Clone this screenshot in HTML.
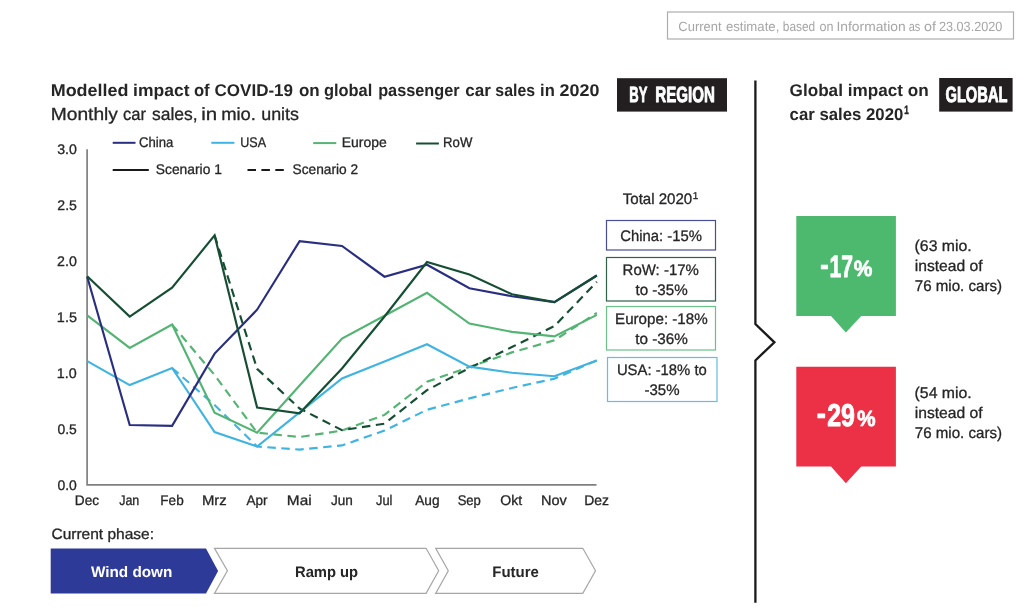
<!DOCTYPE html>
<html lang="en"><head><meta charset="utf-8"><title>Modelled impact of COVID-19 on global passenger car sales in 2020</title>
<style>
html,body{margin:0;padding:0;background:#fff;}
body{width:1024px;height:609px;overflow:hidden;}
svg{display:block;}
text{font-family:"Liberation Sans",sans-serif;fill:#262626;text-rendering:geometricPrecision;}
.b{font-weight:bold;}
</style></head><body>
<svg width="1024" height="609" viewBox="0 0 1024 609">
<rect width="1024" height="609" fill="#ffffff"/>
<rect x="667.5" y="12" width="346" height="27" fill="#fff" stroke="#adadad" stroke-width="1.2"/>
<rect x="617" y="78.2" width="110" height="33.4" fill="#231f20"/>
<rect x="939.2" y="78" width="73.4" height="33.6" fill="#231f20"/>
<polyline points="755.4,80.5 755.4,324 774.4,342.3 755.4,360.4 755.4,602.7" fill="none" stroke="#1a1a1a" stroke-width="2.3" stroke-linejoin="miter"/>
<line x1="112.7" y1="142.8" x2="135.5" y2="142.8" stroke="#292e80" stroke-width="2"/>
<line x1="211.3" y1="142.8" x2="234.4" y2="142.8" stroke="#40b4e0" stroke-width="2"/>
<line x1="313.2" y1="143.1" x2="336.3" y2="143.1" stroke="#53b473" stroke-width="2"/>
<line x1="416.1" y1="143.5" x2="438.9" y2="143.5" stroke="#154e32" stroke-width="2"/>
<line x1="112.7" y1="170" x2="148.8" y2="170" stroke="#1a1a1a" stroke-width="2"/>
<line x1="247.5" y1="170" x2="283.8" y2="170" stroke="#1a1a1a" stroke-width="2" stroke-dasharray="8.5,5.4"/>
<polyline points="87.1,149.3 87.1,484.8 596.5,484.8" fill="none" stroke="#808080" stroke-width="1.7"/>
<polyline points="172.1,368 214.6,405 257.1,446.5 299.6,449.6 342.0,445.4 384.5,430.6 427.0,409.8 469.4,398.4 511.9,388 554.4,378.7 596.8,360.4" fill="none" stroke="#40b4e0" stroke-width="2.15" stroke-linejoin="miter" stroke-dasharray="8.5,5.5"/>
<polyline points="172.1,324.6 214.6,375 257.1,432.7 299.6,437 342.0,430.6 384.5,414.9 427.0,381.8 469.4,367 511.9,352.4 554.4,340.3 596.8,312.9" fill="none" stroke="#53b473" stroke-width="2.15" stroke-linejoin="miter" stroke-dasharray="8.5,5.5"/>
<polyline points="214.6,235.4 257.1,368.8 299.6,408.5 342.0,430.2 384.5,423.7 427.0,390.1 469.4,368 511.9,347 554.4,326.1 596.8,281.8" fill="none" stroke="#154e32" stroke-width="2.15" stroke-linejoin="miter" stroke-dasharray="8.5,5.5"/>
<polyline points="87.2,361.1 129.7,385.1 172.1,368 214.6,432.1 257.1,446.5 299.6,412.4 342.0,378.4 384.5,361.4 427.0,344.3 469.4,366.6 511.9,372.8 554.4,376.2 596.8,360.4" fill="none" stroke="#40b4e0" stroke-width="2.15" stroke-linejoin="miter"/>
<polyline points="87.2,315.4 129.7,347.9 172.1,324.6 214.6,412.6 257.1,432.7 299.6,385.5 342.0,338.5 384.5,315.7 427.0,292.8 469.4,323.6 511.9,331.9 554.4,336.4 596.8,314.9" fill="none" stroke="#53b473" stroke-width="2.15" stroke-linejoin="miter"/>
<polyline points="87.2,276.8 129.7,425 172.1,425.8 214.6,353.6 257.1,309.7 299.6,241.1 342.0,246 384.5,276.7 427.0,264.7 469.4,288.3 511.9,296.2 554.4,302.1 596.8,275.5" fill="none" stroke="#292e80" stroke-width="2.15" stroke-linejoin="miter"/>
<polyline points="87.2,276.2 129.7,316.6 172.1,287.6 214.6,235.4 257.1,407.6 299.6,413.3 342.0,368.5 384.5,316.5 427.0,262 469.4,274.5 511.9,294.2 554.4,302.1 596.8,275.5" fill="none" stroke="#154e32" stroke-width="2.15" stroke-linejoin="miter"/>
<rect x="606.5" y="220.5" width="109" height="29.5" fill="#fff" stroke="#4a4e94" stroke-width="1.2"/>
<rect x="606.5" y="257.5" width="109" height="43.5" fill="#fff" stroke="#2f6247" stroke-width="1.2"/>
<rect x="606.5" y="306.5" width="109" height="43.5" fill="#fff" stroke="#6cc088" stroke-width="1.2"/>
<rect x="607.5" y="357.5" width="109.5" height="44" fill="#fff" stroke="#60c0e4" stroke-width="1.2"/>
<path d="M796.3,216.1 H895.9 V315.9 H861.2 L845.9,332.6 L831,315.9 H796.3 Z" fill="#4cb96f"/>
<path d="M796.3,366.7 H895.9 V466.5 H861.2 L845.9,483.2 L831,466.5 H796.3 Z" fill="#ec3046"/>
<path d="M50.7,548.6 H206 L218.1,571 L206,593.5 H50.7 Z" fill="#2d3a98"/>
<path d="M214.5,548.3 H426.1 L438.7,570.8 L426.1,593.4 H214.5 L227.4,570.8 Z" fill="#fff" stroke="#a6a6a6" stroke-width="1.2"/>
<path d="M435.7,548.3 H582.8 L595.5,570.8 L582.8,593.4 H435.7 L448.3,570.8 Z" fill="#fff" stroke="#a6a6a6" stroke-width="1.2"/>
<text y="30.8" font-size="13.4" style="fill:#a6a6a6"><tspan x="678.34" textLength="43.17" lengthAdjust="spacingAndGlyphs">Current</tspan> <tspan x="725.89" textLength="53.41" lengthAdjust="spacingAndGlyphs">estimate,</tspan> <tspan x="782.78" textLength="32.46" lengthAdjust="spacingAndGlyphs">based</tspan> <tspan x="819.56" textLength="14.02" lengthAdjust="spacingAndGlyphs">on</tspan> <tspan x="836.47" textLength="69.20" lengthAdjust="spacingAndGlyphs">Information</tspan> <tspan x="908.79" textLength="11.58" lengthAdjust="spacingAndGlyphs">as</tspan> <tspan x="924.02" textLength="11.96" lengthAdjust="spacingAndGlyphs">of</tspan> <tspan x="938.99" textLength="63.33" lengthAdjust="spacingAndGlyphs">23.03.2020</tspan></text>
<text y="95.7" font-size="17.0" class="b"><tspan x="50.71" textLength="77.80" lengthAdjust="spacingAndGlyphs">Modelled</tspan> <tspan x="133.13" textLength="56.41" lengthAdjust="spacingAndGlyphs">impact</tspan> <tspan x="193.93" textLength="15.70" lengthAdjust="spacingAndGlyphs">of</tspan> <tspan x="214.57" textLength="78.46" lengthAdjust="spacingAndGlyphs">COVID-19</tspan> <tspan x="298.91" textLength="20.75" lengthAdjust="spacingAndGlyphs">on</tspan> <tspan x="323.91" textLength="48.31" lengthAdjust="spacingAndGlyphs">global</tspan> <tspan x="378.14" textLength="81.49" lengthAdjust="spacingAndGlyphs">passenger</tspan> <tspan x="465.33" textLength="25.70" lengthAdjust="spacingAndGlyphs">car</tspan> <tspan x="495.36" textLength="39.65" lengthAdjust="spacingAndGlyphs">sales</tspan> <tspan x="540.11" textLength="14.68" lengthAdjust="spacingAndGlyphs">in</tspan> <tspan x="559.62" textLength="39.86" lengthAdjust="spacingAndGlyphs">2020</tspan></text>
<text y="119.9" font-size="17.6" style="stroke:#262626;stroke-width:0.3px;stroke-linejoin:round"><tspan x="50.72" textLength="67.23" lengthAdjust="spacingAndGlyphs">Monthly</tspan> <tspan x="122.91" textLength="23.05" lengthAdjust="spacingAndGlyphs">car</tspan> <tspan x="151.97" textLength="45.71" lengthAdjust="spacingAndGlyphs">sales,</tspan> <tspan x="201.27" textLength="15.97" lengthAdjust="spacingAndGlyphs">in</tspan> <tspan x="221.16" textLength="34.76" lengthAdjust="spacingAndGlyphs">mio.</tspan> <tspan x="261.23" textLength="37.81" lengthAdjust="spacingAndGlyphs">units</tspan></text>
<text y="101.7" font-size="22" class="b" style="fill:#fff;stroke:#fff;stroke-width:0.9px;stroke-linejoin:round"><tspan x="629.31" textLength="17.92" lengthAdjust="spacingAndGlyphs">BY</tspan> <tspan x="655.36" textLength="59.58" lengthAdjust="spacingAndGlyphs">REGION</tspan></text>
<text x="789.58" y="96.1" font-size="17.0" textLength="139.04" lengthAdjust="spacingAndGlyphs" class="b">Global impact on</text>
<text y="119.9" font-size="17.0" class="b"><tspan x="789.60" textLength="113.71" lengthAdjust="spacingAndGlyphs">car sales 2020</tspan><tspan x="904.19" y="114.0" font-size="12" style="stroke:#262626;stroke-width:0.5px;stroke-linejoin:round" textLength="4.54" lengthAdjust="spacingAndGlyphs">1</tspan></text>
<text x="945.48" y="101.7" font-size="22" textLength="62.01" lengthAdjust="spacingAndGlyphs" class="b" style="fill:#fff;stroke:#fff;stroke-width:0.9px;stroke-linejoin:round">GLOBAL</text>
<text x="139.01" y="147.3" font-size="14.0" textLength="34.28" lengthAdjust="spacingAndGlyphs" style="stroke:#262626;stroke-width:0.3px;stroke-linejoin:round">China</text>
<text x="240.31" y="147.3" font-size="14.0" textLength="25.82" lengthAdjust="spacingAndGlyphs" style="stroke:#262626;stroke-width:0.3px;stroke-linejoin:round">USA</text>
<text x="341.76" y="147.3" font-size="14.0" textLength="45.04" lengthAdjust="spacingAndGlyphs" style="stroke:#262626;stroke-width:0.3px;stroke-linejoin:round">Europe</text>
<text x="443.11" y="147.3" font-size="14.0" textLength="29.25" lengthAdjust="spacingAndGlyphs" style="stroke:#262626;stroke-width:0.3px;stroke-linejoin:round">RoW</text>
<text x="155.80" y="174.1" font-size="14.0" textLength="66.07" lengthAdjust="spacingAndGlyphs" style="stroke:#262626;stroke-width:0.3px;stroke-linejoin:round">Scenario 1</text>
<text x="292.50" y="174.1" font-size="14.0" textLength="65.60" lengthAdjust="spacingAndGlyphs" style="stroke:#262626;stroke-width:0.3px;stroke-linejoin:round">Scenario 2</text>
<text x="57.45" y="490.4" font-size="14.0" textLength="19.39" lengthAdjust="spacingAndGlyphs" style="stroke:#262626;stroke-width:0.3px;stroke-linejoin:round">0.0</text>
<text x="57.45" y="434.3" font-size="14.0" textLength="19.36" lengthAdjust="spacingAndGlyphs" style="stroke:#262626;stroke-width:0.3px;stroke-linejoin:round">0.5</text>
<text x="56.89" y="378.3" font-size="14.0" textLength="19.91" lengthAdjust="spacingAndGlyphs" style="stroke:#262626;stroke-width:0.3px;stroke-linejoin:round">1.0</text>
<text x="56.88" y="322.2" font-size="14.0" textLength="20.05" lengthAdjust="spacingAndGlyphs" style="stroke:#262626;stroke-width:0.3px;stroke-linejoin:round">1.5</text>
<text x="57.05" y="266.1" font-size="14.0" textLength="19.80" lengthAdjust="spacingAndGlyphs" style="stroke:#262626;stroke-width:0.3px;stroke-linejoin:round">2.0</text>
<text x="57.34" y="210.0" font-size="14.0" textLength="19.63" lengthAdjust="spacingAndGlyphs" style="stroke:#262626;stroke-width:0.3px;stroke-linejoin:round">2.5</text>
<text x="57.15" y="154.0" font-size="14.0" textLength="19.67" lengthAdjust="spacingAndGlyphs" style="stroke:#262626;stroke-width:0.3px;stroke-linejoin:round">3.0</text>
<text x="74.83" y="505.2" font-size="14.0" textLength="24.28" lengthAdjust="spacingAndGlyphs" style="stroke:#262626;stroke-width:0.3px;stroke-linejoin:round">Dec</text>
<text x="119.17" y="505.2" font-size="14.0" textLength="20.14" lengthAdjust="spacingAndGlyphs" style="stroke:#262626;stroke-width:0.3px;stroke-linejoin:round">Jan</text>
<text x="160.35" y="505.2" font-size="14.0" textLength="23.33" lengthAdjust="spacingAndGlyphs" style="stroke:#262626;stroke-width:0.3px;stroke-linejoin:round">Feb</text>
<text x="201.97" y="505.2" font-size="14.0" textLength="24.81" lengthAdjust="spacingAndGlyphs" style="stroke:#262626;stroke-width:0.3px;stroke-linejoin:round">Mrz</text>
<text x="246.45" y="505.2" font-size="14.0" textLength="21.03" lengthAdjust="spacingAndGlyphs" style="stroke:#262626;stroke-width:0.3px;stroke-linejoin:round">Apr</text>
<text x="286.88" y="505.2" font-size="14.0" textLength="24.76" lengthAdjust="spacingAndGlyphs" style="stroke:#262626;stroke-width:0.3px;stroke-linejoin:round">Mai</text>
<text x="330.96" y="505.2" font-size="14.0" textLength="21.85" lengthAdjust="spacingAndGlyphs" style="stroke:#262626;stroke-width:0.3px;stroke-linejoin:round">Jun</text>
<text x="376.02" y="505.2" font-size="14.0" textLength="16.42" lengthAdjust="spacingAndGlyphs" style="stroke:#262626;stroke-width:0.3px;stroke-linejoin:round">Jul</text>
<text x="415.15" y="505.2" font-size="14.0" textLength="24.37" lengthAdjust="spacingAndGlyphs" style="stroke:#262626;stroke-width:0.3px;stroke-linejoin:round">Aug</text>
<text x="457.63" y="505.2" font-size="14.0" textLength="23.26" lengthAdjust="spacingAndGlyphs" style="stroke:#262626;stroke-width:0.3px;stroke-linejoin:round">Sep</text>
<text x="500.26" y="505.2" font-size="14.0" textLength="21.86" lengthAdjust="spacingAndGlyphs" style="stroke:#262626;stroke-width:0.3px;stroke-linejoin:round">Okt</text>
<text x="541.07" y="505.2" font-size="14.0" textLength="25.80" lengthAdjust="spacingAndGlyphs" style="stroke:#262626;stroke-width:0.3px;stroke-linejoin:round">Nov</text>
<text x="584.34" y="505.2" font-size="14.0" textLength="24.70" lengthAdjust="spacingAndGlyphs" style="stroke:#262626;stroke-width:0.3px;stroke-linejoin:round">Dez</text>
<text y="203.7" font-size="15.3" style="stroke:#262626;stroke-width:0.3px;stroke-linejoin:round"><tspan x="622.72" textLength="69.51" lengthAdjust="spacingAndGlyphs">Total 2020</tspan><tspan x="692.82" y="199.2" font-size="10" textLength="5.51" lengthAdjust="spacingAndGlyphs">1</tspan></text>
<text x="620.34" y="241.1" font-size="15.3" textLength="81.60" lengthAdjust="spacingAndGlyphs" style="stroke:#262626;stroke-width:0.3px;stroke-linejoin:round">China: -15%</text>
<text x="622.61" y="274.7" font-size="15.3" textLength="76.22" lengthAdjust="spacingAndGlyphs" style="stroke:#262626;stroke-width:0.3px;stroke-linejoin:round">RoW: -17%</text>
<text x="635.46" y="295.1" font-size="15.3" textLength="52.19" lengthAdjust="spacingAndGlyphs" style="stroke:#262626;stroke-width:0.3px;stroke-linejoin:round">to -35%</text>
<text x="615.05" y="323.8" font-size="15.3" textLength="92.64" lengthAdjust="spacingAndGlyphs" style="stroke:#262626;stroke-width:0.3px;stroke-linejoin:round">Europe: -18%</text>
<text x="635.27" y="343.8" font-size="15.3" textLength="52.55" lengthAdjust="spacingAndGlyphs" style="stroke:#262626;stroke-width:0.3px;stroke-linejoin:round">to -36%</text>
<text x="616.92" y="374.8" font-size="15.3" textLength="89.84" lengthAdjust="spacingAndGlyphs" style="stroke:#262626;stroke-width:0.3px;stroke-linejoin:round">USA: -18% to</text>
<text x="644.45" y="395" font-size="15.3" textLength="35.05" lengthAdjust="spacingAndGlyphs" style="stroke:#262626;stroke-width:0.3px;stroke-linejoin:round">-35%</text>
<text y="275.2" font-size="31" class="b" style="fill:#fff;stroke:#fff;stroke-width:0.9px;stroke-linejoin:round"><tspan x="820.18" textLength="8.42" lengthAdjust="spacingAndGlyphs">-</tspan><tspan x="829.59" y="276.5" textLength="23.48" lengthAdjust="spacingAndGlyphs">17</tspan><tspan x="853.72" y="276.4" font-size="22" style="fill:#fff;stroke:#fff;stroke-width:0.7px;stroke-linejoin:round" textLength="18.61" lengthAdjust="spacingAndGlyphs">%</tspan></text>
<text y="424.4" font-size="31.5" class="b" style="fill:#fff;stroke:#fff;stroke-width:0.9px;stroke-linejoin:round"><tspan x="816.83" textLength="9.10" lengthAdjust="spacingAndGlyphs">-</tspan><tspan x="827.17" y="426.2" textLength="27.77" lengthAdjust="spacingAndGlyphs">29</tspan><tspan x="857.05" y="426.1" font-size="22" style="fill:#fff;stroke:#fff;stroke-width:0.7px;stroke-linejoin:round" textLength="18.61" lengthAdjust="spacingAndGlyphs">%</tspan></text>
<text x="914.61" y="251.0" font-size="15.5" textLength="57.12" lengthAdjust="spacingAndGlyphs" style="stroke:#262626;stroke-width:0.3px;stroke-linejoin:round">(63 mio.</text>
<text x="914.71" y="270.6" font-size="15.5" textLength="67.94" lengthAdjust="spacingAndGlyphs" style="stroke:#262626;stroke-width:0.3px;stroke-linejoin:round">instead of</text>
<text x="914.78" y="291" font-size="15.5" textLength="87.24" lengthAdjust="spacingAndGlyphs" style="stroke:#262626;stroke-width:0.3px;stroke-linejoin:round">76 mio. cars)</text>
<text x="914.61" y="398.3" font-size="15.5" textLength="57.12" lengthAdjust="spacingAndGlyphs" style="stroke:#262626;stroke-width:0.3px;stroke-linejoin:round">(54 mio.</text>
<text x="914.71" y="418.2" font-size="15.5" textLength="67.94" lengthAdjust="spacingAndGlyphs" style="stroke:#262626;stroke-width:0.3px;stroke-linejoin:round">instead of</text>
<text x="914.78" y="438.2" font-size="15.5" textLength="87.24" lengthAdjust="spacingAndGlyphs" style="stroke:#262626;stroke-width:0.3px;stroke-linejoin:round">76 mio. cars)</text>
<text x="51.45" y="538.8" font-size="15.0" textLength="102.62" lengthAdjust="spacingAndGlyphs" style="stroke:#262626;stroke-width:0.3px;stroke-linejoin:round">Current phase:</text>
<text x="90.92" y="577.0" font-size="15.2" textLength="81.45" lengthAdjust="spacingAndGlyphs" class="b" style="fill:#fff">Wind down</text>
<text x="294.97" y="577.0" font-size="15.2" textLength="63.18" lengthAdjust="spacingAndGlyphs" class="b">Ramp up</text>
<text x="492.27" y="577.0" font-size="15.2" textLength="46.64" lengthAdjust="spacingAndGlyphs" class="b">Future</text>
</svg>
</body></html>
